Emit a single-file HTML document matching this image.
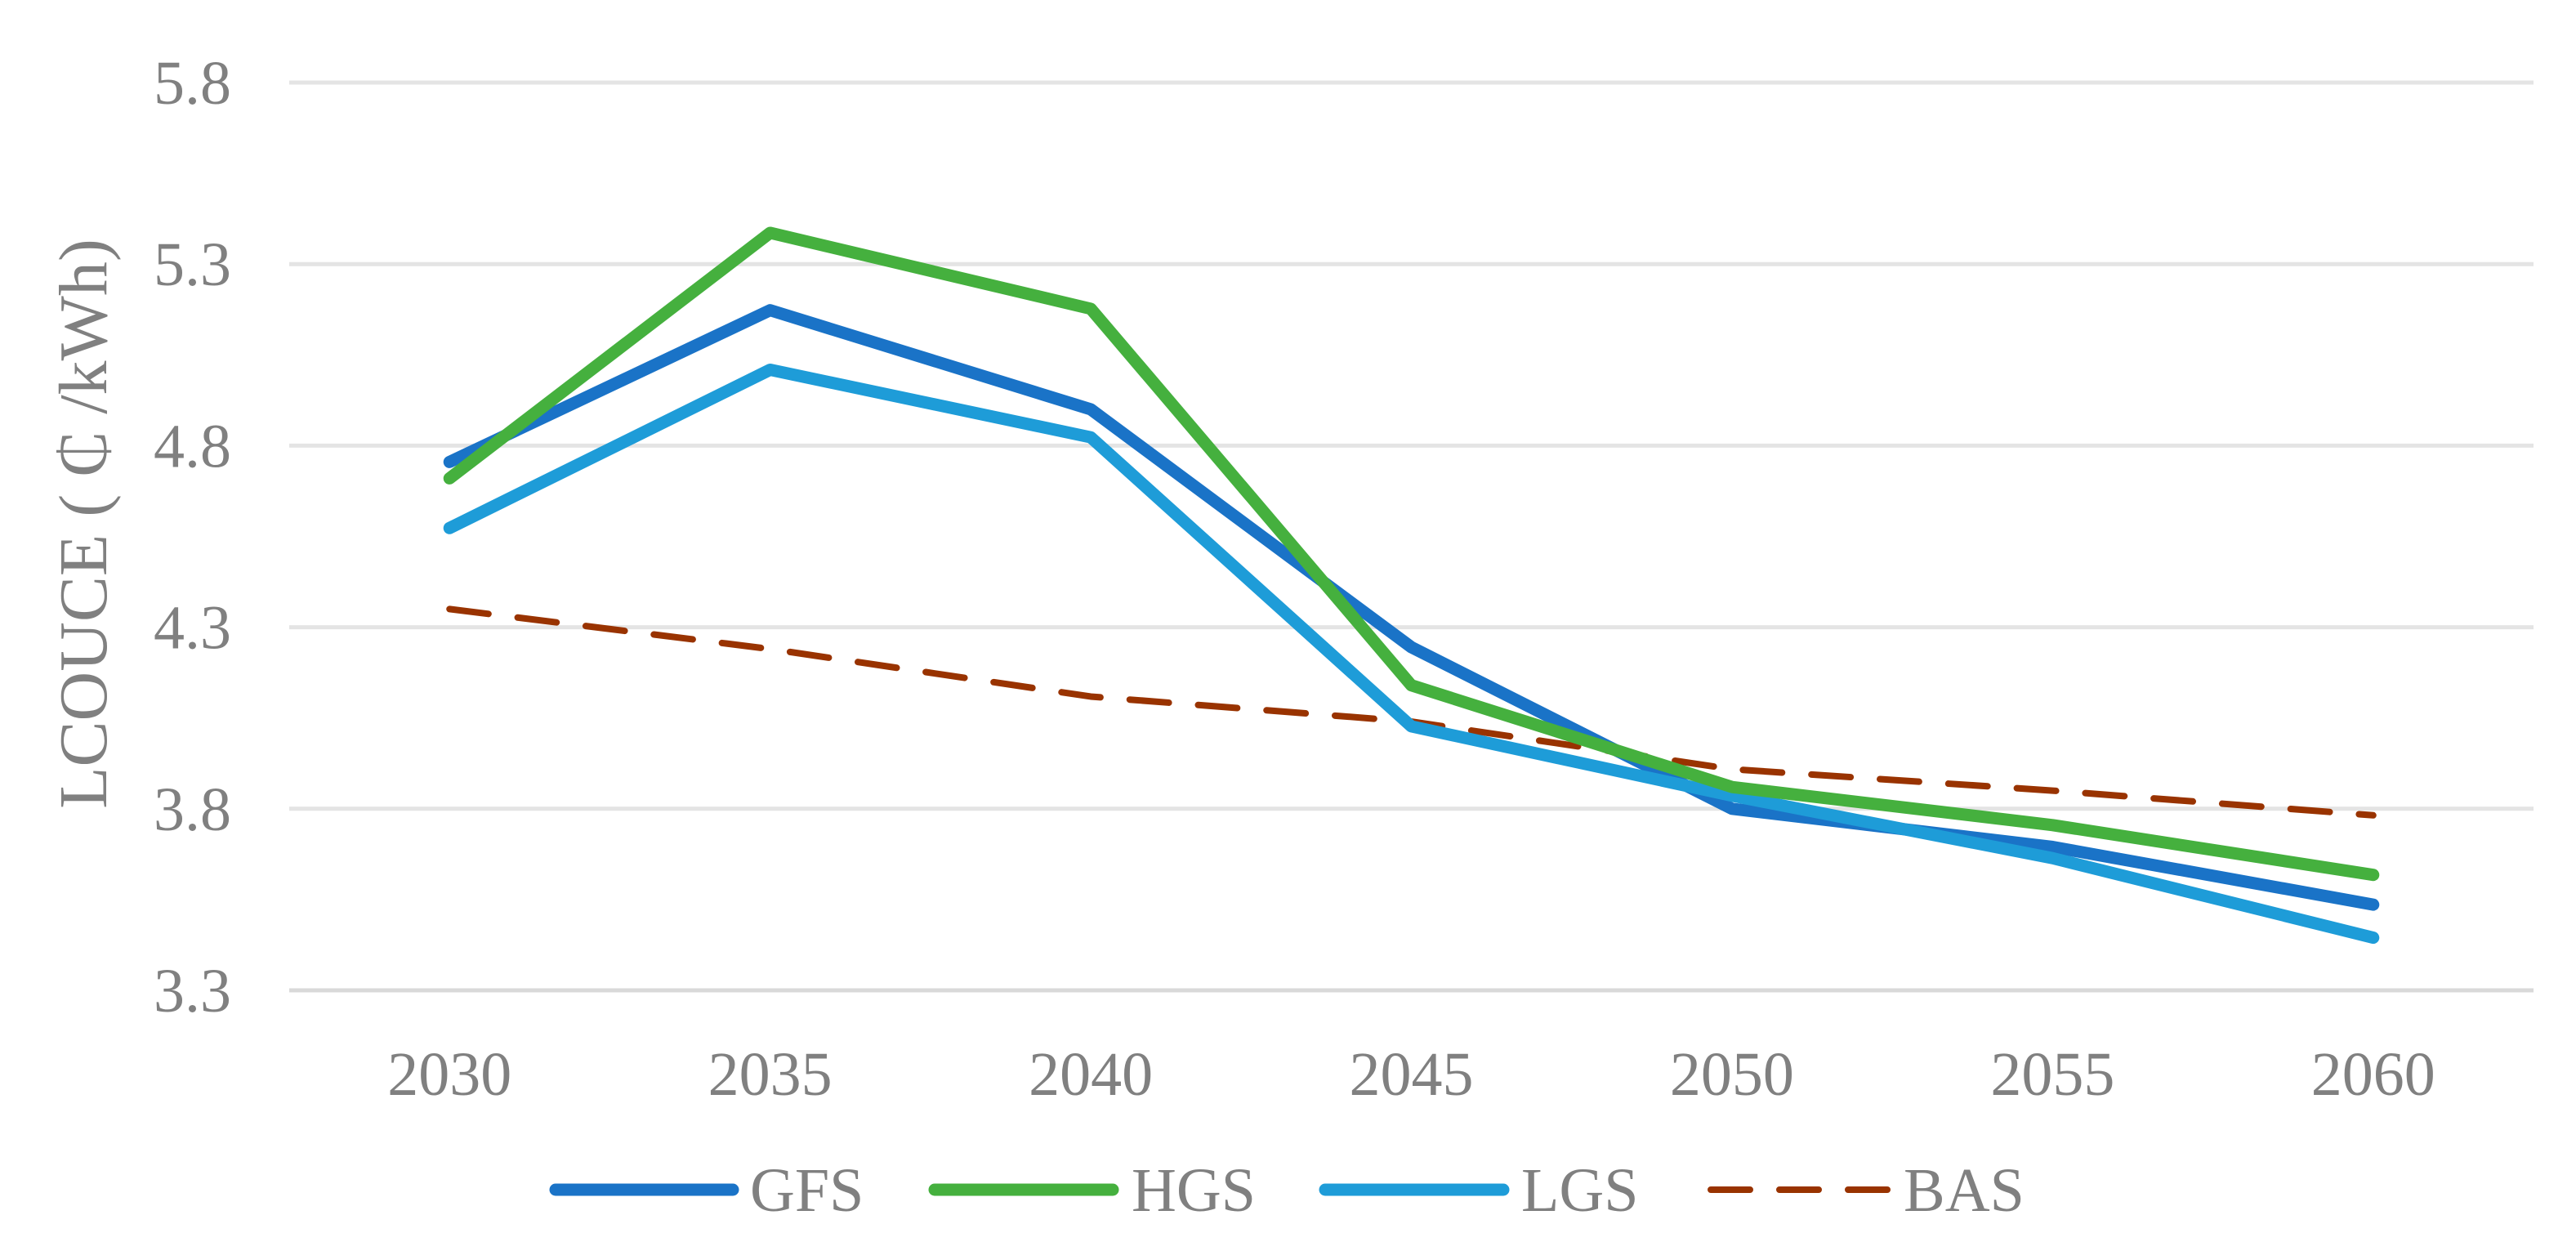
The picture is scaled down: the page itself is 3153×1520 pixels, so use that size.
<!DOCTYPE html>
<html><head><meta charset="utf-8"><style>
html,body{margin:0;padding:0;background:#fff}
svg{display:block}
text{font-family:"Liberation Serif","Times New Roman",serif;fill:#808080}
</style></head><body>
<svg id="chart" width="3153" height="1520" viewBox="0 0 3153 1520" xmlns="http://www.w3.org/2000/svg">
<g id="grid"></g>
<g id="yticks"></g>
<g id="xticks"></g>
<g id="series"></g>
<text x="0" y="0" font-size="84" text-anchor="middle" transform="translate(130,641) rotate(-90)">LCOUCE ( ₵ /kWh)</text>
<g id="legend"></g>
</svg>
<script>
const categories = ["2030","2035","2040","2045","2050","2055","2060"];
const gfs = [4.755,5.173,4.90,4.245,3.80,3.695,3.536];
const hgs = [4.71,5.386,5.177,4.14,3.86,3.755,3.618];
const lgs = [4.573,5.009,4.823,4.027,3.836,3.664,3.445];
const bas = [4.35,4.24,4.109,4.04,3.909,3.85,3.782];
const yTicks = [3.3,3.8,4.3,4.8,5.3,5.8];
const seriesNames = ["GFS","HGS","LGS","BAS"];

const NS="http://www.w3.org/2000/svg";
const left=354,right=3101,yMin=3.3,yMax=5.8,yBot=1212,yTop=101;
const band=(right-left)/categories.length;
const xs=i=>left+band*(i+0.5);
const ys=v=>yBot-(v-yMin)/(yMax-yMin)*(yBot-yTop);
function mk(tag,attrs,parent){const e=document.createElementNS(NS,tag);for(const k in attrs)e.setAttribute(k,attrs[k]);parent.appendChild(e);return e;}

const grid=document.getElementById('grid'),yt=document.getElementById('yticks'),xt=document.getElementById('xticks');
yTicks.forEach(v=>{
  const l=mk('line',{x1:left,x2:right,y1:ys(v),y2:ys(v),stroke:v===yMin?'#d9d9d9':'#e4e4e4','stroke-width':5},grid);
  
  
  const t=mk('text',{x:283,y:ys(v)+26,'font-size':76,'text-anchor':'end'},yt);
  t.textContent=v.toFixed(1);
  
  
});
categories.forEach((c,i)=>{
  const t=mk('text',{x:xs(i),y:1340,'font-size':76,'text-anchor':'middle'},xt);
  t.textContent=c;
  
  
});
const sg=document.getElementById('series');
const defs=[[gfs,'#1a73c7',15,null,'gfs-line'],[hgs,'#45b03e',15,null,'hgs-line'],[lgs,'#1e9cd8',15,null,'lgs-line'],[bas,'#993300',8,'48 36','bas-line']];
function drawOrder(d){
  const p=mk('polyline',{points:d[0].map((v,i)=>xs(i)+','+ys(v)).join(' '),fill:'none',stroke:d[1],'stroke-width':d[2],'stroke-linecap':'round','stroke-linejoin':'round'},sg);
  if(d[3])p.setAttribute('stroke-dasharray',d[3]);
  
  
}
[defs[3],defs[0],defs[2],defs[1]].forEach(drawOrder);
const lg=document.getElementById('legend');
const lx=[[680,897,918],[1144,1362,1385],[1622,1840,1862],[2094,2312,2330]];
seriesNames.forEach((n,i)=>{
  const d=defs[i];
  const g=mk('g',{},lg);
  
  
  const l=mk('line',{x1:lx[i][0],x2:lx[i][1],y1:1456,y2:1456,stroke:d[1],'stroke-width':d[2],'stroke-linecap':'round'},g);
  if(d[3])l.setAttribute('stroke-dasharray',d[3]);
  
  
  const t=mk('text',{x:lx[i][2],y:1482,'font-size':76},g);
  t.textContent=n;
  
  
});
</script>
</body></html>
